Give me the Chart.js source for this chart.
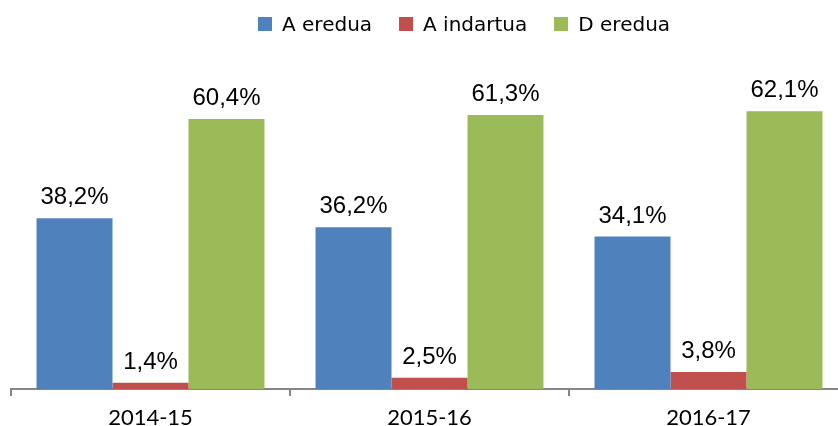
<!DOCTYPE html>
<html>
<head>
<meta charset="utf-8">
<script src="https://cdn.jsdelivr.net/npm/chart.js@4.4.0/dist/chart.umd.min.js"></script>
<style>
  body { margin: 0; background: #fff; }
  #wrap { position: relative; width: 838px; height: 426px; overflow: hidden; }
  #myChart { position: absolute; left: 0; top: 0; }
  #legend { position: absolute; top: 14px; left: 258px; display: flex; align-items: center;
            font-family: "DejaVu Sans", sans-serif; font-size: 20px; color: #000; line-height: 20px; white-space: nowrap; }
  #legend .item { display: flex; align-items: center; margin-right: 27px; }
  #legend .box { width: 14px; height: 14px; margin-right: 10px; }
</style>
</head>
<body>
<div id="wrap">
  <canvas id="myChart" width="860" height="426"></canvas>
  <div id="legend"></div>
</div>
<script>
var categories = ["2014-15", "2015-16", "2016-17"];
var seriesNames = ["A eredua", "A indartua", "D eredua"];
var aEredua = [38.2, 36.2, 34.1];
var aIndartua = [1.4, 2.5, 3.8];
var dEredua = [60.4, 61.3, 62.1];
var colors = ["#4F81BD", "#C0504D", "#9BBB59"];

var values = [aEredua, aIndartua, dEredua];
var datasets = [];
for (var i = 0; i < seriesNames.length; i++) {
    datasets.push({
        label: seriesNames[i],
        data: values[i],
        backgroundColor: colors[i],
        categoryPercentage: 0.817,
        barPercentage: 1.0
    });
}

// legend as html
var leg = document.getElementById("legend");
for (var i = 0; i < seriesNames.length; i++) {
    var it = document.createElement("div");
    it.className = "item";
    var bx = document.createElement("span");
    bx.className = "box";
    bx.style.background = colors[i];
    var tx = document.createElement("span");
    tx.innerText = seriesNames[i];
    it.appendChild(bx);
    it.appendChild(tx);
    leg.appendChild(it);
}

var valueLabels = {
    id: "valueLabels",
    afterDatasetsDraw: function(chart) {
        var ctx = chart.ctx;
        ctx.save();
        ctx.font = "24px 'Liberation Sans', Arial, sans-serif";
        ctx.fillStyle = "#000";
        ctx.textAlign = "center";
        ctx.textBaseline = "alphabetic";
        chart.data.datasets.forEach(function(ds, di) {
            var meta = chart.getDatasetMeta(di);
            meta.data.forEach(function(bar, j) {
                var txt = ds.data[j].toFixed(1).replace(".", ",") + "%";
                ctx.fillText(txt, bar.x, bar.y - 14);
            });
        });
        ctx.restore();
    }
};

var ctx = document.getElementById("myChart").getContext("2d");
var myChart = new Chart(ctx, {
    type: "bar",
    data: { labels: categories, datasets: datasets },
    plugins: [valueLabels],
    options: {
        responsive: false,
        animation: false,
        layout: { padding: { left: 11, right: 12, top: 76, bottom: 0 } },
        plugins: { legend: { display: false }, tooltip: { enabled: false } },
        scales: {
            x: {
                afterFit: function(scale) { scale.height = 37; },
                grid: { display: true, drawOnChartArea: false, drawTicks: true, tickLength: 7, color: "#868686", lineWidth: 2 },
                border: { display: true, color: "#868686", width: 2 },
                ticks: { color: "#000", padding: 9, font: { family: "Lato, 'Open Sans', sans-serif", size: 22 } }
            },
            y: { display: false, min: 0, max: 70 }
        }
    }
});
</script>
</body>
</html>
